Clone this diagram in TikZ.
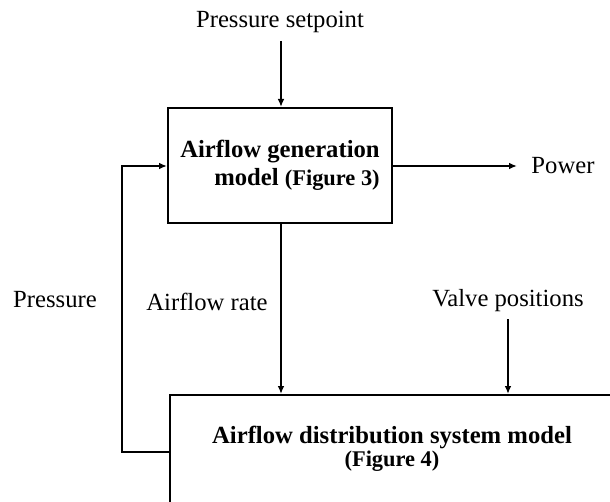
\documentclass[tikz,border=0pt]{standalone}
\usepackage{fontspec}
\setmainfont{Liberation Serif}
\usetikzlibrary{arrows.meta}
\begin{document}
\begin{tikzpicture}[x=0.75pt,y=-0.75pt,
  line/.style={line width=1.5pt},
  arr/.style={line, -{Latex[length=6pt,width=5pt]}},
  boxstyle/.style={draw, line width=1.5pt, inner sep=0pt},
  lbl/.style={font=\fontsize{18.5}{22}\selectfont, inner sep=0pt}]
\path[use as bounding box, clip] (0,0) rectangle (610,502);
\fill[white] (0,0) rectangle (610,502);
% boxes
\node[boxstyle, minimum width=224*0.75pt, minimum height=115*0.75pt,
      align=right, font=\fontsize{18.5}{21}\selectfont] (gen) at (280,165.5)
  {\textbf{Airflow generation}\\\textbf{model} {\fontsize{16.8}{21}\selectfont\textbf{(Figure 3)}}};
\node[boxstyle, minimum width=480*0.75pt, minimum height=140*0.75pt, anchor=north west] (dist) at (169,394) {};
\node[align=center, inner sep=0pt, font=\fontsize{18.5}{17.5}\selectfont] (distlabel) at (392,449)
  {\textbf{Airflow distribution system model}\\{\fontsize{16.8}{17.5}\selectfont\textbf{(Figure 4)}}};
% labels
\node[lbl] (setpoint) at (280,22) {Pressure setpoint};
\node[lbl] (power) at (563,166) {Power};
\node[lbl] (pressure) at (55,300) {Pressure};
\node[lbl] (rate) at (207,302) {Airflow rate};
\node[lbl] (valve) at (508,301) {Valve positions};
% connector ends
\coordinate (sp) at (281,41);
\coordinate (vp) at (508,319);
\coordinate (pwend) at (517,166);
\coordinate (fbA) at (122,452);
\coordinate (fbB) at (122,166);
% connectors
\draw[arr] (sp) -- (sp |- gen.north);
\draw[arr] (gen.east |- pwend) -- (pwend);
\draw[arr] (sp |- gen.south) -- (sp |- dist.north);
\draw[arr] (vp) -- (vp |- dist.north);
\draw[arr] (dist.west |- fbA) -- (fbA) -- (fbB) -- (gen.west |- fbB);
\end{tikzpicture}
\end{document}
